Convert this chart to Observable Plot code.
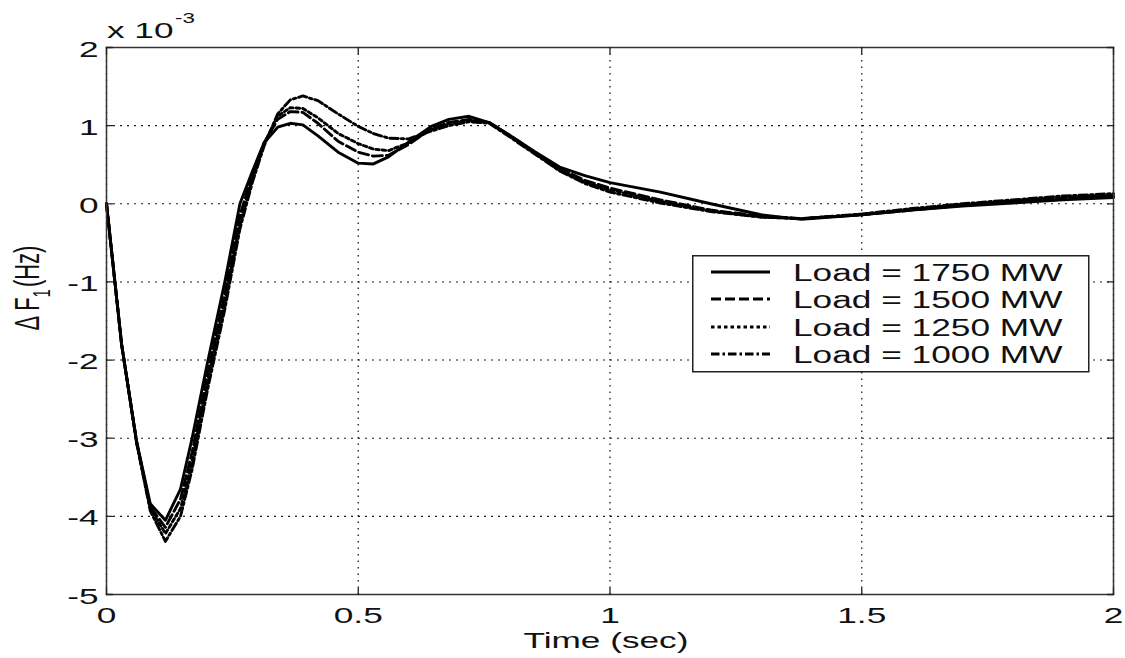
<!DOCTYPE html>
<html><head><meta charset="utf-8">
<script src="https://cdn.jsdelivr.net/npm/d3@7"></script>
<script src="https://cdn.jsdelivr.net/npm/@observablehq/plot@0.6"></script>
<style>
body{margin:0;background:#fff;font-family:"Liberation Sans",Arial,sans-serif;}
#wrap{position:relative;width:1125px;height:658px;overflow:hidden;}
#legend{position:absolute;left:692px;top:255px;}
</style></head><body><div id="wrap"></div>
<script>
// ---- data (ΔF1 in units of 1e-3 Hz) ----
const time = [0, 0.03, 0.06, 0.087, 0.117, 0.147, 0.17, 0.2, 0.235, 0.265, 0.29, 0.313, 0.34, 0.365, 0.39, 0.42, 0.46, 0.5, 0.53, 0.56, 0.6, 0.645, 0.68, 0.72, 0.76, 0.8, 0.85, 0.9, 0.95, 1.0, 1.1, 1.2, 1.3, 1.38, 1.5, 1.6, 1.7, 1.8, 1.9, 2.0];
const load1750 = [0, -1.8, -3.05, -3.84, -4.05, -3.65, -3.0, -2.05, -1.0, 0.0, 0.42, 0.78, 0.98, 1.03, 1.01, 0.87, 0.66, 0.52, 0.51, 0.6, 0.79, 0.99, 1.08, 1.12, 1.04, 0.88, 0.67, 0.47, 0.36, 0.27, 0.15, 0.0, -0.14, -0.2, -0.14, -0.08, -0.03, 0.01, 0.05, 0.08];
const load1500 = [0, -1.8, -3.05, -3.88, -4.14, -3.78, -3.18, -2.2, -1.15, -0.15, 0.38, 0.78, 1.08, 1.18, 1.17, 1.03, 0.8, 0.66, 0.61, 0.62, 0.76, 0.96, 1.04, 1.08, 1.04, 0.88, 0.66, 0.45, 0.3, 0.2, 0.05, -0.08, -0.16, -0.19, -0.14, -0.08, -0.02, 0.03, 0.07, 0.1];
const load1250 = [0, -1.8, -3.06, -3.9, -4.22, -3.9, -3.3, -2.3, -1.25, -0.25, 0.33, 0.77, 1.12, 1.23, 1.22, 1.1, 0.9, 0.77, 0.7, 0.68, 0.78, 0.95, 1.03, 1.07, 1.04, 0.87, 0.65, 0.43, 0.28, 0.18, 0.03, -0.09, -0.17, -0.19, -0.14, -0.07, -0.01, 0.04, 0.08, 0.11];
const load1000 = [0, -1.8, -3.07, -3.93, -4.32, -4.0, -3.4, -2.4, -1.35, -0.32, 0.28, 0.74, 1.15, 1.33, 1.38, 1.32, 1.15, 0.99, 0.9, 0.84, 0.83, 0.93, 1.0, 1.05, 1.03, 0.86, 0.64, 0.42, 0.26, 0.15, 0.01, -0.1, -0.17, -0.19, -0.13, -0.06, 0.0, 0.05, 0.1, 0.13];
const seriesNames = ["Load = 1750 MW", "Load = 1500 MW", "Load = 1250 MW", "Load = 1000 MW"];
const xTicks = [0, 0.5, 1, 1.5, 2];
const yTicks = [-5, -4, -3, -2, -1, 0, 1, 2];
const xLabel = "Time (sec)";
const exponentBase = "x 10";
const exponentPower = "-3";

// ---- styles ----
const dashes = [null, "10,4", "3.5,3", "8.5,3,2.5,3"];
const seriesValues = [load1750, load1500, load1250, load1000];
const K = 1.6;       // horizontal glyph stretch of the reference
const FS = 22;
const LW = 2.9;

const xDom = [0, 2], yDom = [-5, 2];
const tickShape = {draw(ctx, l) { ctx.moveTo(0, 0); ctx.lineTo(0, -l); }};
const tickOpts = {length: 6, anchor: "start", shape: tickShape, stroke: "#222", strokeWidth: 1.3};

const lineMarks = seriesValues.map((vals, i) =>
  Plot.line(time.map((t, j) => ({t, v: vals[j]})), {
    x: "t", y: "v", stroke: "#000", strokeWidth: LW,
    strokeDasharray: dashes[i], strokeLinejoin: "round"
  }));

const svg = Plot.plot({
  width: 1125, height: 658,
  marginLeft: 106, marginRight: 12, marginTop: 47, marginBottom: 64,
  style: {fontFamily: '"Liberation Sans", Arial, sans-serif', color: "#111", background: "#fff"},
  x: {domain: xDom},
  y: {domain: yDom},
  marks: [
    Plot.gridY(yTicks, {stroke: "#000", strokeOpacity: 0.9, strokeDasharray: "2,5", strokeWidth: 1.1}),
    Plot.gridX(xTicks, {stroke: "#000", strokeOpacity: 0.9, strokeDasharray: "1.5,5", strokeWidth: 1.3}),
    ...lineMarks,
    Plot.frame({stroke: "#333", strokeWidth: 1.5}),
    Plot.vector(xTicks, {x: d => d, y: () => yDom[0], rotate: 0, ...tickOpts}),
    Plot.vector(xTicks, {x: d => d, y: () => yDom[1], rotate: 180, ...tickOpts}),
    Plot.vector(yTicks, {y: d => d, x: () => xDom[0], rotate: 90, ...tickOpts}),
    Plot.vector(yTicks, {y: d => d, x: () => xDom[1], rotate: 270, ...tickOpts}),
    Plot.axisX(xTicks, {tickSize: 0, tickPadding: 13, tickFormat: d => String(d), label: null, fontSize: FS}),
    Plot.axisY(yTicks, {tickSize: 0, tickPadding: 8, tickFormat: d => String(d), label: null, fontSize: FS, dy: 2})
  ]
});

const wrap = document.getElementById("wrap");
wrap.append(svg);

function stretch(el, k) {
  const w = el.getComputedTextLength();
  el.setAttribute("textLength", (w * k).toFixed(1));
  el.setAttribute("lengthAdjust", "spacingAndGlyphs");
}
svg.querySelectorAll("text").forEach(t => stretch(t, K));

const s = d3.select(svg);
// x label
const xl = s.append("text").attr("x", 606).attr("y", 648).attr("text-anchor", "middle")
  .attr("font-size", FS).attr("fill", "#111").text(xLabel);
stretch(xl.node(), K);

// exponent label
const ex = s.append("text").attr("transform", `translate(107,38) scale(${K},1)`)
  .attr("text-anchor", "start").attr("font-size", FS).attr("fill", "#111");
ex.append("tspan").text(exponentBase);
ex.append("tspan").attr("font-size", 14).attr("dy", -15).attr("dx", 1).text(exponentPower);

// y label  ΔF1 (Hz)
const yl = s.append("text").attr("transform", `translate(39,288) scale(${K},1) rotate(-90)`)
  .attr("text-anchor", "middle").attr("font-size", 22).attr("fill", "#111");
yl.append("tspan").text("\u0394 F");
yl.append("tspan").attr("font-size", 15).attr("dy", 7).text("1");
yl.append("tspan").attr("dy", -7).attr("dx", 2).text("(Hz)");

// legend
const lg = d3.select(wrap).append("svg").attr("id", "legend").attr("width", 398).attr("height", 118);
lg.append("rect").attr("x", 0.75).attr("y", 0.75).attr("width", 396).attr("height", 116)
  .attr("fill", "#fff").attr("stroke", "#222").attr("stroke-width", 1.5);
const rowY = [17, 44, 72, 99];
seriesNames.forEach((name, i) => {
  lg.append("line").attr("x1", 19).attr("x2", 78).attr("y1", rowY[i]).attr("y2", rowY[i])
    .attr("stroke", "#000").attr("stroke-width", LW).attr("stroke-dasharray", dashes[i]);
  const t = lg.append("text").attr("x", 101).attr("y", rowY[i] + 8.5)
    .attr("font-size", 23.5).attr("fill", "#111").attr("font-family", '"Liberation Sans", Arial, sans-serif').text(name);
  stretch(t.node(), 1.5);
});
</script></body></html>
